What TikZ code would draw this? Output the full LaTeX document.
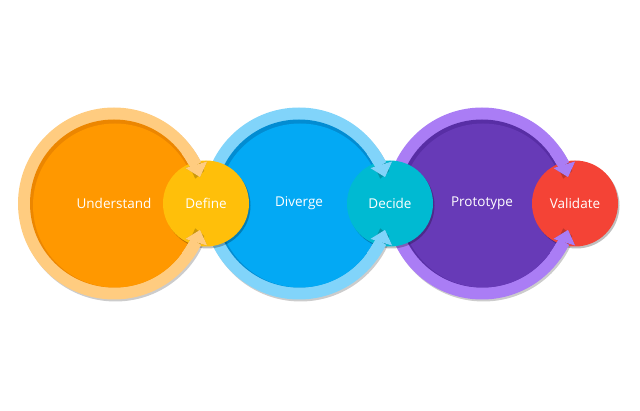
\documentclass[tikz,border=0pt]{standalone}
\usepackage{fontspec}
\setmainfont{Open Sans}
\usetikzlibrary{positioning, arrows.meta, shadows, calc}
\definecolor{UnderstandRing}{RGB}{255,204,128}
\definecolor{UnderstandDark}{RGB}{236,134,0}
\definecolor{UnderstandMain}{RGB}{255,152,0}
\definecolor{DefineMain}{RGB}{255,191,10}
\definecolor{DivergeRing}{RGB}{129,212,250}
\definecolor{DivergeDark}{RGB}{2,140,210}
\definecolor{DivergeMain}{RGB}{3,169,244}
\definecolor{DecideMain}{RGB}{0,186,210}
\definecolor{PrototypeRing}{RGB}{170,125,245}
\definecolor{PrototypeDark}{RGB}{88,46,165}
\definecolor{PrototypeMain}{RGB}{103,58,183}
\definecolor{ValidateMain}{RGB}{244,67,54}
\tikzset{
  ringdisk/.style={circle, minimum size=192pt, inner sep=0pt,
    drop shadow={shadow xshift=1.5pt, shadow yshift=-2pt, opacity=0.2, fill=black}},
  smalldisk/.style={circle, minimum size=86pt, inner sep=0pt, text=white,
    font=\fontsize{13.5}{16}\selectfont,
    drop shadow={shadow xshift=1.5pt, shadow yshift=-2pt, opacity=0.25, fill=black}},
  stagetext/.style={text=white, font=\fontsize{13.5}{16}\selectfont},
  ringarrow/.style={line width=12pt, -{Triangle[width=22pt, length=13pt]}},
  arrowshadow/.style={ringarrow, black, opacity=0.2, shift={(1pt,-1.5pt)}}
}
\begin{document}
\begin{tikzpicture}[x=1pt, y=1pt]
  \useasboundingbox (0,0) rectangle (640,410);
  % big stages
  \node[ringdisk, fill=UnderstandRing] (understand) at (114,206.5) {};
  \fill[UnderstandDark] (understand) circle (84pt);
  \fill[UnderstandMain] ($(understand)+(1,-2)$) circle (82pt);
  \node[stagetext] at (understand) {Understand};
  \node[ringdisk, fill=DivergeRing] (diverge) at (299,206.5) {};
  \fill[DivergeDark] (diverge) circle (84pt);
  \fill[DivergeMain] ($(diverge)+(1,-2)$) circle (82pt);
  \node[stagetext] at (diverge) {Diverge};
  \node[ringdisk, fill=PrototypeRing] (prototype) at (482,206.5) {};
  \fill[PrototypeDark] (prototype) circle (84pt);
  \fill[PrototypeMain] ($(prototype)+(1,-2)$) circle (82pt);
  \node[stagetext] at (prototype) {Prototype};
  % small stages
  \node[smalldisk, fill=DefineMain] (define) at (206,206.5) {Define};
  \node[smalldisk, fill=DecideMain] (decide) at (390,206.5) {Decide};
  \node[smalldisk, fill=ValidateMain] (validate) at (575,206.5) {Validate};
  % arrow heads into the small stages
  \draw[arrowshadow] ($(understand)+(26:90pt)$) arc[start angle=26, end angle=17, radius=90pt];
  \draw[ringarrow, UnderstandRing] ($(understand)+(36:90pt)$) arc[start angle=36, end angle=17, radius=90pt];
  \draw[arrowshadow] ($(understand)+(-26:90pt)$) arc[start angle=-26, end angle=-17, radius=90pt];
  \draw[ringarrow, UnderstandRing] ($(understand)+(-36:90pt)$) arc[start angle=-36, end angle=-17, radius=90pt];
  \draw[arrowshadow] ($(diverge)+(26:90pt)$) arc[start angle=26, end angle=17, radius=90pt];
  \draw[ringarrow, DivergeRing] ($(diverge)+(36:90pt)$) arc[start angle=36, end angle=17, radius=90pt];
  \draw[arrowshadow] ($(diverge)+(-26:90pt)$) arc[start angle=-26, end angle=-17, radius=90pt];
  \draw[ringarrow, DivergeRing] ($(diverge)+(-36:90pt)$) arc[start angle=-36, end angle=-17, radius=90pt];
  \draw[arrowshadow] ($(prototype)+(26:90pt)$) arc[start angle=26, end angle=17, radius=90pt];
  \draw[ringarrow, PrototypeRing] ($(prototype)+(36:90pt)$) arc[start angle=36, end angle=17, radius=90pt];
  \draw[arrowshadow] ($(prototype)+(-26:90pt)$) arc[start angle=-26, end angle=-17, radius=90pt];
  \draw[ringarrow, PrototypeRing] ($(prototype)+(-36:90pt)$) arc[start angle=-36, end angle=-17, radius=90pt];
\end{tikzpicture}
\end{document}
